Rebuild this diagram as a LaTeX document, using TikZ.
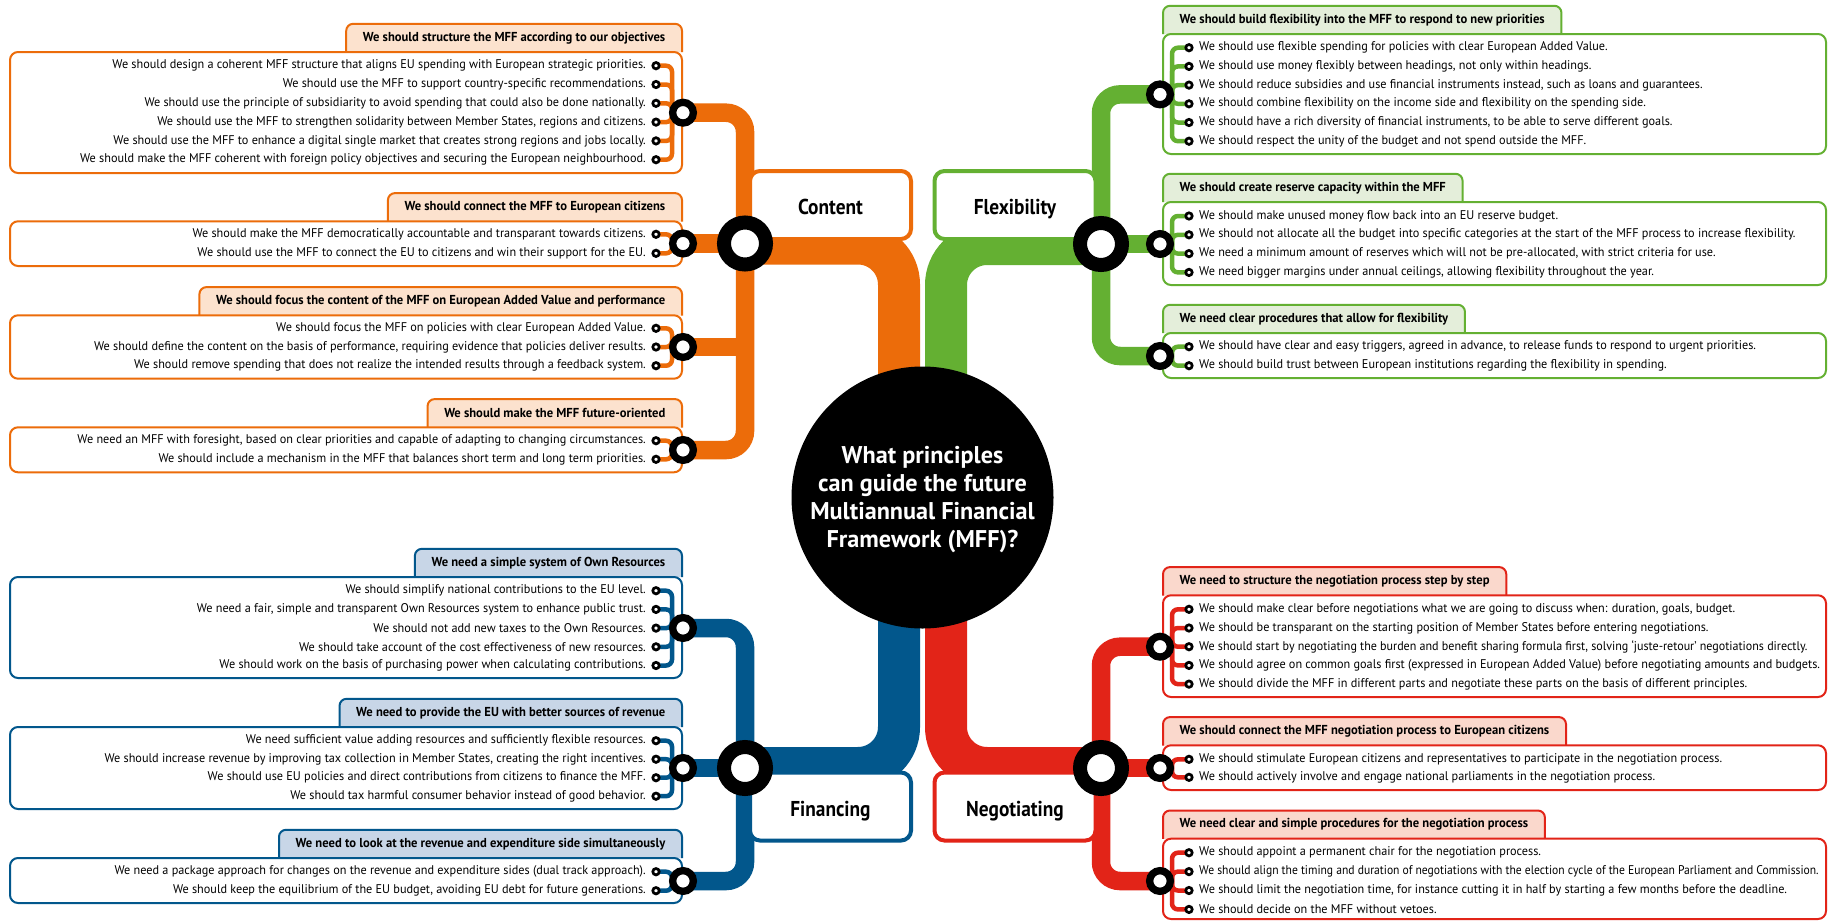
\documentclass[tikz,border=0pt]{standalone}
\usepackage{fontspec}
\usepackage{graphicx}
\setmainfont{PT Sans}[FakeStretch=0.97]
\newfontfamily\ctrfont{PT Sans}
\newfontfamily\catfont{PT Sans}[FakeStretch=0.9]
\usetikzlibrary{calc}
\pgfdeclarelayer{bgZ}
\pgfdeclarelayer{bgA}
\pgfdeclarelayer{bgB}
\pgfdeclarelayer{bgC}
\pgfsetlayers{bgZ,bgA,bgB,bgC,main}

\definecolor{cO}{RGB}{236,108,10}
\definecolor{cOl}{RGB}{252,226,206}
\definecolor{cG}{RGB}{100,176,50}
\definecolor{cGl}{RGB}{228,238,218}
\definecolor{cB}{RGB}{2,87,140}
\definecolor{cBl}{RGB}{200,214,231}
\definecolor{cR}{RGB}{226,36,24}
\definecolor{cRl}{RGB}{250,216,204}

\tikzset{
 itemtxt/.style={inner sep=0pt, font=\fontsize{12.6}{14}\selectfont},
 hdrtxt/.style={inner xsep=16.5pt, inner ysep=0pt, minimum height=28pt, font=\bfseries\fontsize{13}{14}\selectfont},
 hdrtab/.style={line width=2pt, rounded corners=7pt},
 itembox/.style={line width=2pt, rounded corners=8pt, fill=white},
 smallc/.style={circle, draw=black, fill=white, line width=2.7pt, minimum size=6.4pt, inner sep=0pt},
 midc/.style={circle, draw=black, fill=white, line width=7.3pt, minimum size=20.7pt, inner sep=0pt},
 bigc/.style={circle, draw=black, fill=white, line width=14pt, minimum size=42pt, inner sep=0pt},
 thinl/.style={line width=4.5pt, rounded corners=6pt},
 subl/.style={line width=18.5pt, rounded corners=19pt},
 mainl/.style={line width=42pt, rounded corners=41pt},
 catbox/.style={draw, fill=white, line width=4pt, rounded corners=10pt, minimum width=161pt, minimum height=68pt, text height=19pt, text depth=0pt, font=\catfont\bfseries\fontsize{21.5}{24}\selectfont, inner sep=0pt},
}

% left-side group: id, colour, light colour, header, header centre y, box bottom, mid circle y, items
\newcommand\LGroup[8]{%
 \node[hdrtxt, anchor=east] (#1h) at (682,#5) {#4};
 \begin{pgfonlayer}{bgB}
  \draw[hdrtab, draw=#2, fill=#3] (#1h.south west) -- (#1h.north west) -- (#1h.north east) -- (#1h.south east);
  \draw[itembox, draw=#2] (10,{#5+14}) rectangle (682,#6);
 \end{pgfonlayer}
 \node[midc] (#1m) at (683,#7) {};
 \foreach \yy/\itm [count=\i] in {#8} {
  \node[itemtxt, anchor=east] (#1t\i) at (646,\yy) {\itm};
  \node[smallc] (#1s\i) at (656,\yy) {};
  \begin{pgfonlayer}{bgC}
   \draw[thinl, draw=#2] (#1s\i.center) -| ([xshift=-11pt, yshift=0.4pt]#1m.center);
  \end{pgfonlayer}
 }
}
% right-side group
\newcommand\RGroup[8]{%
 \node[hdrtxt, anchor=west] (#1h) at (1163,#5) {#4};
 \begin{pgfonlayer}{bgB}
  \draw[hdrtab, draw=#2, fill=#3] (#1h.south west) -- (#1h.north west) -- (#1h.north east) -- (#1h.south east);
  \draw[itembox, draw=#2] (1163,{#5+14}) rectangle (1826,#6);
 \end{pgfonlayer}
 \node[midc] (#1m) at (1160,#7) {};
 \foreach \yy/\itm [count=\i] in {#8} {
  \node[itemtxt, anchor=west] (#1t\i) at (1199,\yy) {\itm};
  \node[smallc] (#1s\i) at (1189,\yy) {};
  \begin{pgfonlayer}{bgC}
   \draw[thinl, draw=#2] (#1s\i.center) -| ([xshift=12pt, yshift=0.4pt]#1m.center);
  \end{pgfonlayer}
 }
}

\begin{document}
\begin{tikzpicture}[x=1pt,y=-1pt]
\begin{pgfonlayer}{bgZ}
\fill[white] (0,0) rectangle (1829,922);
\end{pgfonlayer}
\useasboundingbox (0,0) rectangle (1829,922);

% centre
\node[circle, fill=black, minimum size=262pt, inner sep=0pt] (ctr) at (922.5,497.5) {};
\node[align=center, text=white, font=\ctrfont\bfseries\fontsize{24.2}{28}\selectfont] (ctrtxt) at (922.5,500)
 {What principles\\can guide the future\\Multiannual Financial\\Framework (MFF)?};

% category boxes
\node[catbox, draw=cO] (cbox) at (830.5,205) {Content};
\node[catbox, draw=cG] (xbox) at (1015,205) {Flexibility};
\node[catbox, draw=cB] (fbox) at (830.5,806.5) {Financing};
\node[catbox, draw=cR] (nbox) at (1015,806.5) {Negotiating};

% big circles
\node[bigc] (cbig) at (745,243.5) {};
\node[bigc] (xbig) at (1101,244) {};
\node[bigc] (fbig) at (745,768) {};
\node[bigc] (nbig) at (1101,768) {};

% ---------- Content ----------
\LGroup{C1}{cO}{cOl}{We should structure the MFF according to our objectives}{38}{173}{112.7}{%
65.7/{We should design a coherent MFF structure that aligns EU spending with European strategic priorities.},
84.5/{We should use the MFF to support country-specific recommendations.},
103.3/{We should use the principle of subsidiarity to avoid spending that could also be done nationally.},
122.1/{We should use the MFF to strengthen solidarity between Member States, regions and citizens.},
140.9/{We should use the MFF to enhance a digital single market that creates strong regions and jobs locally.},
159.7/{We should make the MFF coherent with foreign policy objectives and securing the European neighbourhood.}}
\LGroup{C2}{cO}{cOl}{We should connect the MFF to European citizens}{207.3}{266}{243.5}{%
234.3/{We should make the MFF democratically accountable and transparant towards citizens.},
253.3/{We should use the MFF to connect the EU to citizens and win their support for the EU.}}
\LGroup{C3}{cO}{cOl}{We should focus the content of the MFF on European Added Value and performance}{301.3}{378.7}{347}{%
328.3/{We should focus the MFF on policies with clear European Added Value.},
347/{We should define the content on the basis of performance, requiring evidence that policies deliver results.},
365.7/{We should remove spending that does not realize the intended results through a feedback system.}}
\LGroup{C4}{cO}{cOl}{We should make the MFF future-oriented}{413.3}{472.3}{450}{%
440.7/{We need an MFF with foresight, based on clear priorities and capable of adapting to changing circumstances.},
459.3/{We should include a mechanism in the MFF that balances short term and long term priorities.}}

% ---------- Financing ----------
\LGroup{F1}{cB}{cBl}{We need a simple system of Own Resources}{563}{678}{628}{%
590.7/{We should simplify national contributions to the EU level.},
609.4/{We need a fair, simple and transparent Own Resources system to enhance public trust.},
628.1/{We should not add new taxes to the Own Resources.},
646.8/{We should take account of the cost effectiveness of new resources.},
665.5/{We should work on the basis of purchasing power when calculating contributions.}}
\LGroup{F2}{cB}{cBl}{We need to provide the EU with better sources of revenue}{713}{809}{768}{%
740.7/{We need sufficient value adding resources and sufficiently flexible resources.},
759.2/{We should increase revenue by improving tax collection in Member States, creating the right incentives.},
777.7/{We should use EU policies and direct contributions from citizens to finance the MFF.},
796.2/{We should tax harmful consumer behavior instead of good behavior.}}
\LGroup{F3}{cB}{cBl}{We need to look at the revenue and expenditure side simultaneously}{844}{903}{881}{%
871.7/{We need a package approach for changes on the revenue and expenditure sides (dual track approach).},
890.7/{We should keep the equilibrium of the EU budget, avoiding EU debt for future generations.}}

% ---------- Flexibility ----------
\RGroup{X1}{cG}{cGl}{We should build flexibility into the MFF to respond to new priorities}{20}{154}{94.4}{%
47.7/{We should use flexible spending for policies with clear European Added Value.},
66.4/{We should use money flexibly between headings, not only within headings.},
85.1/{We should reduce subsidies and use financial instruments instead, such as loans and guarantees.},
103.8/{We should combine flexibility on the income side and flexibility on the spending side.},
122.5/{We should have a rich diversity of financial instruments, to be able to serve different goals.},
141.2/{We should respect the unity of the budget and not spend outside the MFF.}}
\RGroup{X2}{cG}{cGl}{We should create reserve capacity within the MFF}{188}{285}{244}{%
216/{We should make unused money flow back into an EU reserve budget.},
234.8/{We should not allocate all the budget into specific categories at the start of the MFF process to increase flexibility.},
253.6/{We need a minimum amount of reserves which will not be pre-allocated, with strict criteria for use.},
272.4/{We need bigger margins under annual ceilings, allowing flexibility throughout the year.}}
\RGroup{X3}{cG}{cGl}{We need clear procedures that allow for flexibility}{319}{378}{356}{%
346.7/{We should have clear and easy triggers, agreed in advance, to release funds to respond to urgent priorities.},
365.7/{We should build trust between European institutions regarding the flexibility in spending.}}

% ---------- Negotiating ----------
\RGroup{N1}{cR}{cRl}{We need to structure the negotiation process step by step}{581.3}{697}{646.7}{%
609.3/{We should make clear before negotiations what we are going to discuss when: duration, goals, budget.},
628/{We should be transparant on the starting position of Member States before entering negotiations.},
646.7/{\scalebox{0.985}[1]{We should start by negotiating the burden and benefit sharing formula first, solving ‘juste-retour’ negotiations directly.}},
665.4/{We should agree on common goals first (expressed in European Added Value) before negotiating amounts and budgets.},
684.1/{We should divide the MFF in different parts and negotiate these parts on the basis of different principles.}}
\RGroup{N2}{cR}{cRl}{We should connect the MFF negotiation process to European citizens}{731.3}{790}{768}{%
759.3/{We should stimulate European citizens and representatives to participate in the negotiation process.},
777.3/{We should actively involve and engage national parliaments in the negotiation process.}}
\RGroup{N3}{cR}{cRl}{We need clear and simple procedures for the negotiation process}{824.7}{919}{881}{%
852.7/{We should appoint a permanent chair for the negotiation process.},
871.6/{\scalebox{0.95}[1]{We should align the timing and duration of negotiations with the election cycle of the European Parliament and Commission.}},
890.5/{We should limit the negotiation time, for instance cutting it in half by starting a few months before the deadline.},
909.4/{We should decide on the MFF without vetoes.}}

% ---------- trunks ----------
\begin{pgfonlayer}{bgA}
 \draw[mainl, cO] ([xshift=-23.5pt]ctr.center) |- (cbig.center);
 \draw[mainl, cG] ([xshift=23.5pt]ctr.center) |- (xbig.center);
 \draw[mainl, cB] ([xshift=-23.5pt]ctr.center) |- (fbig.center);
 \draw[mainl, cR] ([xshift=23.5pt]ctr.center) |- (nbig.center);
 % content
 \draw[subl, cO] (C1m.center) -| (cbig.center);
 \draw[subl, cO] (C4m.center) -| (cbig.center);
 \draw[subl, cO] (C2m.center) -- (cbig.center);
 \draw[subl, cO] (C3m.center) -- (cbig.center |- C3m.center);
 % flexibility
 \draw[subl, cG] (X1m.center) -| (xbig.center);
 \draw[subl, cG] (X3m.center) -| (xbig.center);
 \draw[subl, cG] (X2m.center) -- (xbig.center);
 % financing
 \draw[subl, cB] (F1m.center) -| (fbig.center);
 \draw[subl, cB] (F3m.center) -| (fbig.center);
 \draw[subl, cB] (F2m.center) -- (fbig.center);
 % negotiating
 \draw[subl, cR] (N1m.center) -| (nbig.center);
 \draw[subl, cR] (N3m.center) -| (nbig.center);
 \draw[subl, cR] (N2m.center) -- (nbig.center);
\end{pgfonlayer}
\end{tikzpicture}
\end{document}
